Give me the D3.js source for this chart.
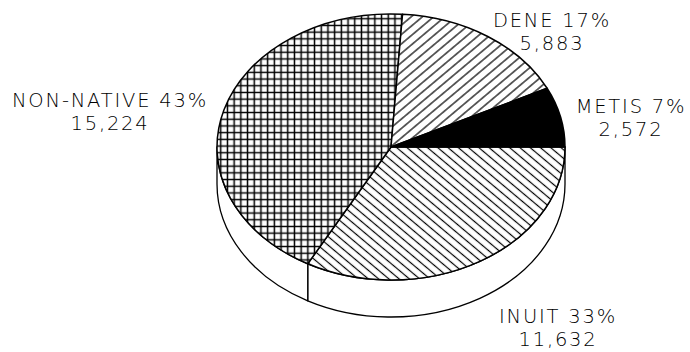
<!DOCTYPE html>
<html>
<head>
<meta charset="utf-8">
<script src="https://cdn.jsdelivr.net/npm/d3@7"></script>
<style>
    body { margin: 0; background: #fff; }
    text { font-family: "DejaVu Sans", sans-serif; font-weight: 200; fill: #000; }
</style>
</head>
<body>
<svg id="chart" width="690" height="352"></svg>
<script>
// population groups, drawn clockwise from 3 o'clock
var groups = ["INUIT", "NON-NATIVE", "DENE", "METIS"];
var counts = [11632, 15224, 5883, 2572];
var percents = [33, 43, 17, 7];

var width = 690, height = 352;
var cx = 391, cy = 147; // centre of top face
var rx = 174, ry = 133; // ellipse radii
var depth = 37;

// where each label sits (centre of text block)
var labelPos = {
    "INUIT": [558, 323],
    "NON-NATIVE": [110, 107],
    "DENE": [552, 27],
    "METIS": [631, 113]
};
var fills = {
    "INUIT": "url(#hatch-back)",
    "NON-NATIVE": "url(#grid)",
    "DENE": "url(#hatch-fwd)",
    "METIS": "#000"
};

var svg = d3.select("#chart");
var defs = svg.append("defs");

// "/" hatch
var p1 = defs.append("pattern").attr("id", "hatch-fwd").attr("patternUnits", "userSpaceOnUse")
    .attr("width", 20).attr("height", 7.2).attr("patternTransform", "rotate(-40)");
p1.append("rect").attr("width", 20).attr("height", 7.2).attr("fill", "#fff");
p1.append("line").attr("x1", 0).attr("x2", 20).attr("y1", 3.6).attr("y2", 3.6)
    .attr("stroke", "#000").attr("stroke-width", 1.2);

// "\" hatch
var p2 = defs.append("pattern").attr("id", "hatch-back").attr("patternUnits", "userSpaceOnUse")
    .attr("width", 20).attr("height", 6.6).attr("patternTransform", "rotate(40)");
p2.append("rect").attr("width", 20).attr("height", 6.6).attr("fill", "#fff");
p2.append("line").attr("x1", 0).attr("x2", 20).attr("y1", 3.3).attr("y2", 3.3)
    .attr("stroke", "#000").attr("stroke-width", 1.2);

// square grid
var g = 6.7;
var p3 = defs.append("pattern").attr("id", "grid").attr("patternUnits", "userSpaceOnUse")
    .attr("width", g).attr("height", g).attr("x", 3).attr("y", 2);
p3.append("rect").attr("width", g).attr("height", g).attr("fill", "#fff");
p3.append("path").attr("d", "M0," + g / 2 + "H" + g + "M" + g / 2 + ",0V" + g)
    .attr("stroke", "#000").attr("stroke-width", 1.5).attr("fill", "none");

var pie = d3.pie().sort(null).value(function (d) { return d; })
    .startAngle(Math.PI / 2).endAngle(Math.PI / 2 + 2 * Math.PI);
var arcs = pie(counts);

// point on ellipse for angle measured clockwise from 12 o'clock
function pt(a, dy) {
    return [cx + rx * Math.sin(a), cy - ry * Math.cos(a) + (dy || 0)];
}

// side wall (only the front half, angles PI/2..3PI/2)
var sides = svg.append("g");
arcs.forEach(function (d, i) {
    var s = Math.max(d.startAngle, Math.PI / 2);
    var e = Math.min(d.endAngle, 3 * Math.PI / 2);
    if (e <= s) return;
    var a = pt(s), b = pt(e), c = pt(e, depth), f = pt(s, depth);
    var path = "M" + a + "A" + rx + "," + ry + " 0 0 1 " + b +
        "L" + c + "A" + rx + "," + ry + " 0 0 0 " + f + "Z";
    sides.append("path").attr("d", path).attr("fill", "#fff")
        .attr("stroke", "#000").attr("stroke-width", 1.3).attr("stroke-linejoin", "round");
});

// top face
var topFace = svg.append("g");
arcs.forEach(function (d, i) {
    var a = pt(d.startAngle), b = pt(d.endAngle);
    var large = (d.endAngle - d.startAngle) > Math.PI ? 1 : 0;
    var path = "M" + cx + "," + cy + "L" + a + "A" + rx + "," + ry + " 0 " + large + " 1 " + b + "Z";
    topFace.append("path").attr("d", path).attr("fill", fills[groups[i]])
        .attr("stroke", "#000").attr("stroke-width", 1.5).attr("stroke-linejoin", "round");
});

// labels
var fmt = d3.format(",");
var labels = svg.append("g");
groups.forEach(function (name, i) {
    var p = labelPos[name];
    var t = labels.append("text").attr("text-anchor", "middle")
        .attr("font-size", 19.5).attr("letter-spacing", 1.8);
    t.append("tspan").attr("x", p[0]).attr("y", p[1]).text(name + " " + percents[i] + "%");
    t.append("tspan").attr("x", p[0]).attr("y", p[1] + 23).text(fmt(counts[i]));
});
</script>
</body>
</html>
